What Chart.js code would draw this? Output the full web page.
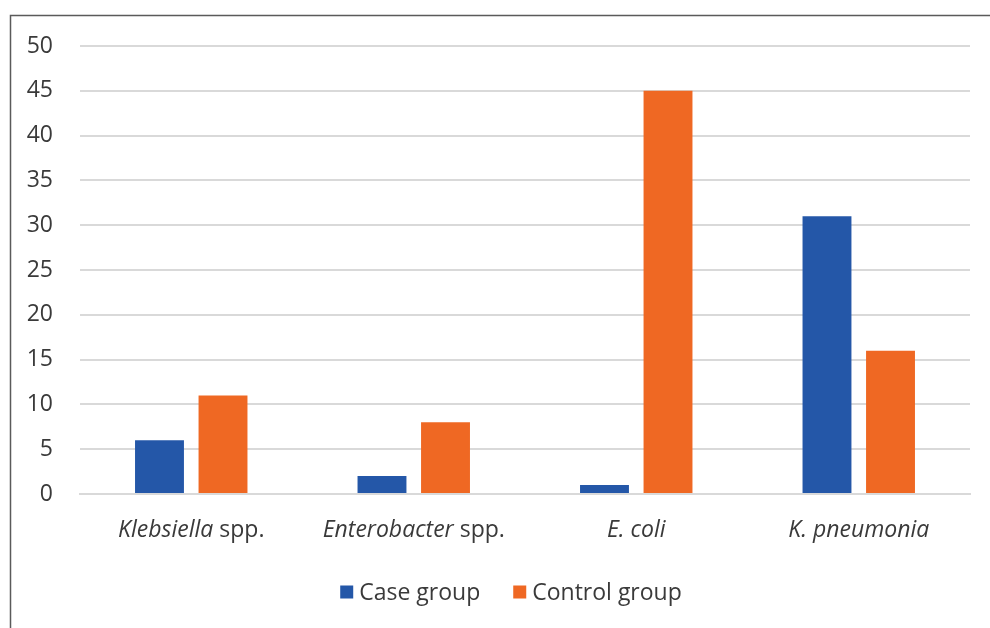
<!DOCTYPE html>
<html>
<head>
<meta charset="utf-8">
<script src="https://cdn.jsdelivr.net/npm/chart.js@4"></script>
<style>
  html, body { margin: 0; padding: 0; background: #ffffff; }
  #wrap { width: 990px; height: 628px; position: relative; }
</style>
</head>
<body>
<div id="wrap"><canvas id="chart" width="990" height="628"></canvas></div>
<script>
// Organisms on the x axis; the genus/species part is set in italics
const categories = ['Klebsiella spp.', 'Enterobacter spp.', 'E. coli', 'K. pneumonia'];
const italicNames = ['Klebsiella', 'Enterobacter', 'E. coli', 'K. pneumonia'];

// Counts per group
const caseGroup = [6, 2, 1, 31];
const controlGroup = [11, 8, 45, 16];

// Value axis
const yMin = 0;
const yMax = 50;
const yStep = 5;

const FONT = "'Open Sans', 'Liberation Sans', sans-serif";
const TEXT = '#3a3a3a';
const FONT_SIZE = 23;

// Outer frame (top and left edges)
const framePlugin = {
  id: 'frame',
  beforeDraw(chart) {
    const ctx = chart.ctx;
    ctx.save();
    ctx.fillStyle = '#ffffff';
    ctx.fillRect(0, 0, chart.width, chart.height);
    ctx.strokeStyle = '#5a5a5a';
    ctx.lineWidth = 1.5;
    ctx.beginPath();
    ctx.moveTo(10.5, chart.height);
    ctx.lineTo(10.5, 15.5);
    ctx.lineTo(chart.width, 15.5);
    ctx.stroke();
    ctx.restore();
  }
};

// Category labels with an italic name followed by an upright suffix
const categoryLabelPlugin = {
  id: 'categoryLabels',
  afterDraw(chart) {
    const ctx = chart.ctx;
    const xs = chart.scales.x;
    const y = xs.top + 36;
    ctx.save();
    ctx.fillStyle = TEXT;
    ctx.textBaseline = 'middle';
    ctx.textAlign = 'left';
    const it = 'italic ' + FONT_SIZE + 'px ' + FONT;
    const up = FONT_SIZE + 'px ' + FONT;
    categories.forEach((label, i) => {
      const name = italicNames[i];
      const rest = label.slice(name.length);
      ctx.font = it;
      const w1 = ctx.measureText(name).width;
      ctx.font = up;
      const w2 = ctx.measureText(rest).width;
      const x = xs.getPixelForValue(i) - (w1 + w2) / 2;
      ctx.font = it;
      ctx.fillText(name, x, y);
      ctx.font = up;
      ctx.fillText(rest, x + w1, y);
    });
    ctx.restore();
  }
};

// Legend row below the axis: square swatch, short gap, series name
const legendPlugin = {
  id: 'seriesLegend',
  afterDraw(chart) {
    const ctx = chart.ctx;
    const box = 13, gap = 6, itemGap = 33;
    const y = 593;
    ctx.save();
    ctx.font = FONT_SIZE + 'px ' + FONT;
    ctx.textBaseline = 'middle';
    ctx.textAlign = 'left';
    const items = chart.data.datasets.map(ds => ({
      text: ds.label, color: ds.backgroundColor, w: ctx.measureText(ds.label).width
    }));
    const total = items.reduce((s, d) => s + box + gap + d.w, 0) + itemGap * (items.length - 1);
    let x = (chart.chartArea.left + chart.chartArea.right) / 2 - total / 2 - 14;
    items.forEach(d => {
      ctx.fillStyle = d.color;
      ctx.fillRect(x, y - box / 2 - 1, box, box);
      ctx.fillStyle = TEXT;
      ctx.fillText(d.text, x + box + gap, y);
      x += box + gap + d.w + itemGap;
    });
    ctx.restore();
  }
};

new Chart(document.getElementById('chart'), {
  type: 'bar',
  data: {
    labels: categories,
    datasets: [
      {
        label: 'Case group',
        data: caseGroup,
        backgroundColor: '#2457a8',
        borderWidth: 0,
        categoryPercentage: 0.571,
        barPercentage: 0.77
      },
      {
        label: 'Control group',
        data: controlGroup,
        backgroundColor: '#ef6823',
        borderWidth: 0,
        categoryPercentage: 0.571,
        barPercentage: 0.77
      }
    ]
  },
  options: {
    responsive: false,
    devicePixelRatio: 1,
    animation: false,
    layout: { padding: { left: 10, top: 46, right: 20, bottom: 55 } },
    plugins: {
      legend: { display: false },
      tooltip: { enabled: false }
    },
    scales: {
      x: {
        grid: { display: false },
        border: { color: '#d9d9d9', width: 2 },
        ticks: { display: false },
        afterFit(s) { s.height = 79; }
      },
      y: {
        min: yMin,
        max: yMax,
        ticks: {
          stepSize: yStep,
          color: TEXT,
          padding: 27,
          font: { family: FONT, size: FONT_SIZE }
        },
        grid: { color: '#d9d9d9', lineWidth: 2, drawTicks: false },
        border: { display: false },
        afterFit(s) { s.width = 70; }
      }
    }
  },
  plugins: [framePlugin, categoryLabelPlugin, legendPlugin]
});
</script>
</body>
</html>
